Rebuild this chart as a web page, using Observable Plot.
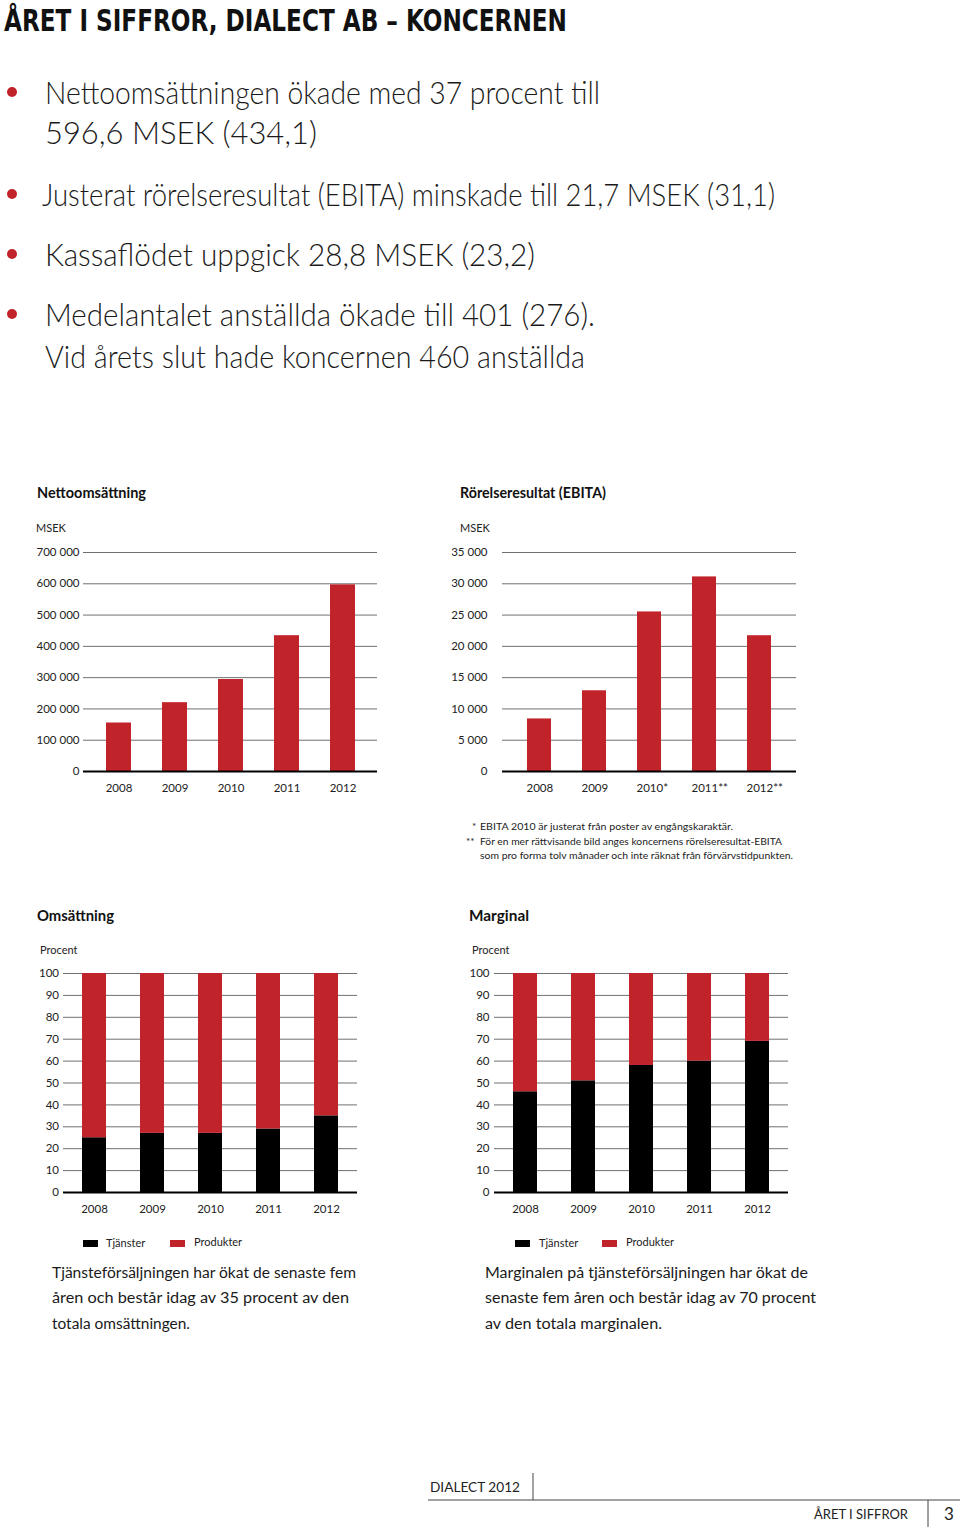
<!DOCTYPE html>
<html><head><meta charset="utf-8">
<script src="https://cdn.jsdelivr.net/npm/d3@7"></script>
<script src="https://cdn.jsdelivr.net/npm/@observablehq/plot@0.6"></script>
<style>
html,body{margin:0;padding:0;background:#fff;}
#page{position:relative;width:960px;height:1527px;overflow:hidden;background:#fff;}
.chart{position:absolute;}
#overlay{position:absolute;left:0;top:0;}
</style></head><body><div id="page"></div>
<script>
// ---------- data ----------
const years = ["2008", "2009", "2010", "2011", "2012"];
const netSales = [155000, 220000, 294000, 434100, 596600];
const netTicks = [0, 100000, 200000, 300000, 400000, 500000, 600000, 700000];
const ebita = [8400, 12900, 25500, 31100, 21700];
const ebitaYearLabels = ["2008", "2009", "2010*", "2011**", "2012**"];
const ebitaTicks = [0, 5000, 10000, 15000, 20000, 25000, 30000, 35000];
const seriesNames = ["Tjänster", "Produkter"];
const salesServicesPct = [25, 27, 27, 29, 35];
const marginServicesPct = [46, 51, 58, 60, 69];
const pctTicks = [0, 10, 20, 30, 40, 50, 60, 70, 80, 90, 100];

const pageTitle = "ÅRET I SIFFROR, DIALECT AB – KONCERNEN";
const bulletLines = [
  "Nettoomsättningen ökade med 37 procent till",
  "596,6 MSEK (434,1)",
  "Justerat rörelseresultat (EBITA) minskade till 21,7 MSEK (31,1)",
  "Kassaflödet uppgick 28,8 MSEK (23,2)",
  "Medelantalet anställda ökade till 401 (276).",
  "Vid årets slut hade koncernen 460 anställda"
];
const chartTitles = ["Nettoomsättning", "Rörelseresultat (EBITA)", "Omsättning", "Marginal"];
const footnotes = [
  "EBITA 2010 är justerat från poster av engångskaraktär.",
  "För en mer rättvisande bild anges koncernens rörelseresultat-EBITA",
  "som pro forma tolv månader och inte räknat från förvärvstidpunkten."
];
const captionLeft = ["Tjänsteförsäljningen har ökat de senaste fem", "åren och består idag av 35 procent av den", "totala omsättningen."];
const captionRight = ["Marginalen på tjänsteförsäljningen har ökat de", "senaste fem åren och består idag av 70 procent", "av den totala marginalen."];

// ---------- style ----------
const RED = "#c1232b";
const GRID = "#707070";
const FONT = "Lato, 'Open Sans', sans-serif";
const page = document.getElementById("page");
const spaceFmt = d => d3.format(",")(d).replace(/,/g, " ");

function place(svg, left, top) {
  const div = document.createElement("div");
  div.className = "chart";
  div.style.left = left + "px";
  div.style.top = top + "px";
  div.appendChild(svg);
  page.appendChild(div);
}

function simpleBars({values, labels, ticks, max, mL, mR, tickPadding, pi, po, labelAnchor, labelDx}) {
  const rows = years.map((y, i) => ({year: y, value: values[i], label: labels[i]}));
  return Plot.plot({
    width: 400, height: 260,
    marginLeft: mL, marginRight: mR, marginTop: 12, marginBottom: 29,
    style: {fontFamily: FONT, fontSize: "11.5px", color: "#222", background: "transparent"},
    x: {domain: years, paddingInner: pi, paddingOuter: po, axis: null},
    y: {domain: [0, max], axis: null},
    marks: [
      Plot.ruleY(ticks, {stroke: GRID, strokeWidth: 1}),
      Plot.barY(rows, {x: "year", y: "value", fill: RED}),
      Plot.ruleY([0], {stroke: "#000", strokeWidth: 1.8}),
      Plot.axisY({ticks, tickSize: 0, tickPadding, tickFormat: spaceFmt, label: null, fill: "#222"}),
      Plot.text(rows, {x: "year", text: "label", frameAnchor: "bottom", dy: 20, textAnchor: labelAnchor, dx: labelDx, fill: "#222"})
    ]
  });
}

function stackedBars({services, mL, mR, tickPadding}) {
  const rows = [];
  years.forEach((y, i) => rows.push({year: y, type: seriesNames[0], value: services[i]}));
  years.forEach((y, i) => rows.push({year: y, type: seriesNames[1], value: 100 - services[i]}));
  return Plot.plot({
    width: 400, height: 260,
    marginLeft: mL, marginRight: mR, marginTop: 13, marginBottom: 28,
    style: {fontFamily: FONT, fontSize: "11.5px", color: "#222", background: "transparent"},
    x: {domain: years, paddingInner: 0.579, paddingOuter: 0.294, axis: null},
    y: {domain: [0, 100], axis: null},
    color: {domain: seriesNames, range: ["#000", RED]},
    marks: [
      Plot.ruleY(pctTicks, {stroke: GRID, strokeWidth: 1}),
      Plot.barY(rows, {x: "year", y: "value", fill: "type", order: seriesNames}),
      Plot.ruleY([0], {stroke: "#000", strokeWidth: 1.8}),
      Plot.axisY({ticks: pctTicks, tickSize: 0, tickPadding, label: null, fill: "#222"}),
      Plot.text(years, {x: d => d, text: d => d, frameAnchor: "bottom", dy: 20.5, fill: "#222"})
    ]
  });
}

place(simpleBars({values: netSales, labels: years, ticks: netTicks, max: 700000, mL: 83, mR: 23, tickPadding: 4, pi: 0.554, po: 0.40, labelAnchor: "middle", labelDx: 0}), 0, 540);
place(simpleBars({values: ebita, labels: ebitaYearLabels, ticks: ebitaTicks, max: 35000, mL: 82, mR: 24, tickPadding: 15, pi: 0.561, po: 0.415, labelAnchor: "start", labelDx: -13}), 420, 540);
place(stackedBars({services: salesServicesPct, mL: 63, mR: 43, tickPadding: 4.5}), 0, 960);
place(stackedBars({services: marginServicesPct, mL: 64, mR: 42, tickPadding: 5}), 430, 960);

// ---------- text overlay ----------
const ov = d3.select(page).append("svg").attr("id", "overlay").attr("width", 960).attr("height", 1527);
function txt(x, y, s, o = {}) {
  const t = ov.append("text").attr("x", x).attr("y", y)
    .attr("font-size", o.size || 11).attr("font-weight", o.weight || 400)
    .attr("font-family", o.family || FONT).attr("fill", o.fill || "#222")
    .text(s);
  if (o.len) t.attr("textLength", o.len).attr("lengthAdjust", "spacingAndGlyphs");
  return t;
}

txt(4, 31, pageTitle, {size: 30, weight: 700, family: "'DejaVu Sans Condensed', 'Liberation Sans Narrow', sans-serif", fill: "#111", len: 563});

const bulletPos = [[45, 104, 555, true], [45, 144, 272, false], [42, 206, 733, true], [45, 266, 490, true], [45, 326, 550, true], [45, 368, 540, false]];
bulletLines.forEach((s, i) => {
  const [x, y, len, dot] = bulletPos[i];
  txt(x, y, s, {size: 31, weight: 300, fill: "#1a1a1a", len});
  if (dot) ov.append("circle").attr("cx", 12).attr("cy", y - 12).attr("r", 5).attr("fill", RED);
});

txt(37, 497.5, chartTitles[0], {size: 15, weight: 700, fill: "#111", len: 109});
txt(460, 497.5, chartTitles[1], {size: 15, weight: 700, fill: "#111", len: 146});
txt(37, 921, chartTitles[2], {size: 15, weight: 700, fill: "#111", len: 77});
txt(469, 921, chartTitles[3], {size: 15, weight: 700, fill: "#111", len: 60});

txt(36, 532, "MSEK", {size: 11});
txt(460, 532, "MSEK", {size: 11});
txt(40, 954, "Procent", {size: 11});
txt(472, 954, "Procent", {size: 11});

txt(472, 830, "*", {size: 10});
txt(480, 830, footnotes[0], {size: 10, len: 253});
txt(466, 845, "**", {size: 10});
txt(480, 845, footnotes[1], {size: 10, len: 302});
txt(480, 859, footnotes[2], {size: 10, len: 313});

// legends
[[83, 106, 170, 194], [515, 539, 602, 626]].forEach(([s1, t1, s2, t2]) => {
  ov.append("rect").attr("x", s1).attr("y", 1240).attr("width", 15).attr("height", 7).attr("fill", "#000");
  txt(t1, 1247, seriesNames[0], {size: 11});
  ov.append("rect").attr("x", s2).attr("y", 1240).attr("width", 15).attr("height", 7).attr("fill", RED);
  txt(t2, 1246, seriesNames[1], {size: 11});
});

const capY = [1278, 1303, 1329];
const capLL = [304, 297, 138], capRL = [323, 331, 177];
captionLeft.forEach((s, i) => txt(52, capY[i], s, {size: 15.5, fill: "#1a1a1a", len: capLL[i]}));
captionRight.forEach((s, i) => txt(485, capY[i], s, {size: 15.5, fill: "#1a1a1a", len: capRL[i]}));

// footer
txt(430, 1492, "DIALECT 2012", {size: 13, fill: "#222", len: 90});
ov.append("line").attr("x1", 533).attr("x2", 533).attr("y1", 1473).attr("y2", 1500).attr("stroke", "#444").attr("stroke-width", 1);
ov.append("line").attr("x1", 428).attr("x2", 960).attr("y1", 1500).attr("y2", 1500).attr("stroke", "#444").attr("stroke-width", 1);
txt(814, 1519, "ÅRET I SIFFROR", {size: 13, fill: "#222", len: 94});
ov.append("line").attr("x1", 928).attr("x2", 928).attr("y1", 1500).attr("y2", 1527).attr("stroke", "#444").attr("stroke-width", 1);
txt(944, 1520, "3", {size: 17, fill: "#222"});
</script></body></html>
